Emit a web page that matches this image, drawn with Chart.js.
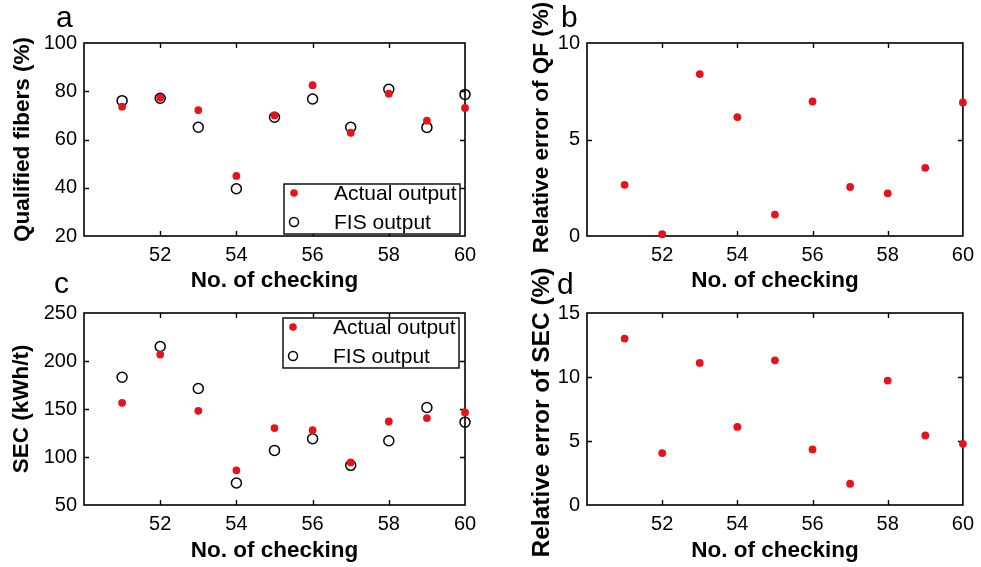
<!DOCTYPE html>
<html><head><meta charset="utf-8">
<script src="https://cdn.jsdelivr.net/npm/chart.js@4"></script>
<style>
html,body{margin:0;padding:0;background:#fff}
body{width:981px;height:567px;position:relative;overflow:hidden;font-family:'Liberation Sans',Arial,sans-serif}
canvas{position:absolute;display:block}
.lbl{position:absolute;font-size:30px;line-height:30px;color:#000}
</style></head>
<body>
<canvas id="ca" width="490" height="300" style="left:0;top:0"></canvas>
<canvas id="cb" width="491" height="300" style="left:490px;top:0"></canvas>
<canvas id="cc" width="490" height="297" style="left:0;top:270px"></canvas>
<canvas id="cd" width="491" height="307" style="left:490px;top:260px"></canvas>
<div class="lbl" style="left:56px;top:2px">a</div>
<div class="lbl" style="left:561px;top:2px">b</div>
<div class="lbl" style="left:54px;top:268px">c</div>
<div class="lbl" style="left:557px;top:269px">d</div>
<script>
// ---- data ----
const checks     = [51, 52, 53, 54, 55, 56, 57, 58, 59, 60];
const qfActual   = [73.6, 77.3, 72.2, 44.9, 70.0, 82.5, 62.8, 79.0, 67.8, 73.1];
const qfFis      = [76.1, 77.1, 65.1, 39.6, 69.2, 76.8, 65.1, 80.8, 65.0, 78.7];
const qfError    = [2.65, 0.09, 8.39, 6.16, 1.11, 6.97, 2.54, 2.21, 3.53, 6.92];
const secActual  = [156.4, 206.7, 148.1, 86.1, 130.1, 128.0, 94.4, 137.0, 140.5, 146.4];
const secFis     = [183.1, 215.1, 171.4, 72.9, 106.9, 119.0, 91.3, 116.9, 151.6, 136.3];
const secError   = [13.0, 4.06, 11.1, 6.1, 11.3, 4.34, 1.66, 9.72, 5.43, 4.78];
const xTicks     = [52, 54, 56, 58, 60];
const qfTicks    = [20, 40, 60, 80, 100];
const qfErrTicks = [0, 5, 10];
const secTicks   = [50, 100, 150, 200, 250];
const secErrTicks= [0, 5, 10, 15];
const seriesNames = ['Actual output', 'FIS output'];

const FONT = "'Liberation Sans', Arial, sans-serif";
const RED = 'rgb(228,20,26)';

const matlabAxes = {
  id: 'matlabAxes',
  beforeDatasetsDraw(chart) {
    const {ctx, chartArea: a, scales: {x, y}} = chart;
    const tl = 5;
    ctx.save();
    ctx.strokeStyle = '#000';
    ctx.lineWidth = 1.4;
    ctx.beginPath();
    x.ticks.forEach(t => {
      const px = Math.round(x.getPixelForValue(t.value)) + 0.5;
      if (px > a.left + 2 && px < a.right - 2) {
        ctx.moveTo(px, a.bottom); ctx.lineTo(px, a.bottom - tl);
        ctx.moveTo(px, a.top); ctx.lineTo(px, a.top + tl);
      }
    });
    y.ticks.forEach(t => {
      const py = Math.round(y.getPixelForValue(t.value)) + 0.5;
      if (py > a.top + 2 && py < a.bottom - 2) {
        ctx.moveTo(a.left, py); ctx.lineTo(a.left + tl, py);
        ctx.moveTo(a.right, py); ctx.lineTo(a.right - tl, py);
      }
    });
    ctx.stroke();
    ctx.lineWidth = 1.6;
    ctx.strokeRect(a.left, a.top, a.right - a.left, a.bottom - a.top);
    ctx.restore();
  }
};

const boxLegend = {
  id: 'boxLegend',
  afterDatasetsDraw(chart, args, opts) {
    if (!opts || !opts.display) return;
    const {ctx, chartArea: a} = chart;
    const w = 176, h = 50;
    const left = a.right - opts.offsetRight - w;
    const top = opts.corner === 'top' ? a.top + opts.offsetY : a.bottom - opts.offsetY - h;
    ctx.save();
    ctx.fillStyle = '#fff';
    ctx.fillRect(left, top, w, h);
    ctx.strokeStyle = '#000';
    ctx.lineWidth = 1.4;
    ctx.strokeRect(left, top, w, h);
    const rows = [top + 9, top + 38];
    chart.data.datasets.forEach((ds, i) => {
      const cy = rows[i];
      const cx = left + 10;
      ctx.beginPath();
      ctx.arc(cx, cy, i === 0 ? 3.8 : 4.5, 0, Math.PI * 2);
      if (i === 0) { ctx.fillStyle = ds.backgroundColor; ctx.fill(); }
      else { ctx.strokeStyle = ds.borderColor; ctx.lineWidth = 1.5; ctx.stroke(); }
      ctx.fillStyle = '#000';
      ctx.font = '21px ' + FONT;
      ctx.textBaseline = 'middle';
      ctx.textAlign = 'left';
      ctx.fillText(ds.label, left + 50, cy + 1);
    });
    ctx.restore();
  }
};

// y-axis title drawn off-centre (panels b and d in the reference are not centred on their axes)
const shiftedYTitle = {
  id: 'shiftedYTitle',
  afterDraw(chart, args, o) {
    if (!o || !o.text) return;
    const {ctx, chartArea: a} = chart;
    ctx.save();
    ctx.translate(o.x, (a.top + a.bottom) / 2 + o.shift);
    ctx.rotate(-Math.PI / 2);
    ctx.font = 'bold ' + o.size + 'px ' + FONT;
    ctx.textAlign = 'center';
    ctx.textBaseline = 'middle';
    ctx.fillStyle = '#000';
    ctx.fillText(o.text, 0, 0);
    ctx.restore();
  }
};

function pts(ys) { return checks.map((c, i) => ({x: c, y: ys[i]})); }

function actualSet(ys, label) {
  return {label: label, data: pts(ys), pointStyle: 'circle', pointRadius: 3.9,
    backgroundColor: RED, borderColor: RED, borderWidth: 0, showLine: false, clip: false};
}
function fisSet(ys, label) {
  return {label: label, data: pts(ys), pointStyle: 'circle', pointRadius: 5,
    backgroundColor: 'rgba(0,0,0,0)', borderColor: '#000', borderWidth: 1.5, showLine: false, clip: false};
}

function makePanel(id, datasets, o) {
  new Chart(document.getElementById(id), {
    type: 'scatter',
    data: {datasets: datasets},
    plugins: [matlabAxes, boxLegend, shiftedYTitle],
    options: {
      responsive: false,
      animation: false,
      events: [],
      layout: {padding: {left: 0, right: o.padRight, top: o.padTop || 43, bottom: 0}},
      plugins: {
        legend: {display: false},
        tooltip: {enabled: false},
        boxLegend: o.legend || {display: false},
        shiftedYTitle: o.shiftedTitle || {}
      },
      scales: {
        x: {
          type: 'linear', min: 50, max: 60,
          grid: {display: false, drawTicks: false},
          border: {display: false},
          afterBuildTicks: s => { s.ticks = xTicks.map(v => ({value: v})); },
          afterFit: s => { s.height = o.xHeight; },
          ticks: {color: '#000', font: {family: FONT, size: 20}, padding: 7, maxRotation: 0, autoSkip: false},
          title: {display: true, text: 'No. of checking', color: '#000',
            font: {family: FONT, size: 22.5, weight: 'bold'}, padding: {top: 0, bottom: o.xTitlePad}}
        },
        y: {
          type: 'linear', min: o.yMin, max: o.yMax,
          grid: {display: false, drawTicks: false},
          border: {display: false},
          afterBuildTicks: s => { s.ticks = o.yTicks.map(v => ({value: v})); },
          afterFit: s => { s.width = o.yWidth; },
          ticks: {color: '#000', font: {family: FONT, size: 20}, padding: 7, autoSkip: false},
          title: {display: !o.shiftedTitle, text: o.yTitle, color: '#000',
            font: {family: FONT, size: 22.5, weight: 'bold'}, padding: {top: o.yTitlePad, bottom: 0}}
        }
      }
    }
  });
}

makePanel('ca', [actualSet(qfActual, seriesNames[0]), fisSet(qfFis, seriesNames[1])], {
  padRight: 25, xHeight: 64, xTitlePad: 6, yWidth: 84, yTitlePad: 9.5,
  yMin: 20, yMax: 100, yTicks: qfTicks, yTitle: 'Qualified fibers (%)',
  legend: {display: true, corner: 'bottom', offsetRight: 5, offsetY: 2}
});
makePanel('cb', [actualSet(qfError, 'Relative error of QF')], {
  padRight: 14, xHeight: 64, xTitlePad: 6, yWidth: 97, yTitlePad: 35.5,
  yMin: 0, yMax: 10, yTicks: qfErrTicks, yTitle: 'Relative error of QF (%)',
  shiftedTitle: {text: 'Relative error of QF (%)', x: 51.5, shift: -12, size: 22.5}
});
makePanel('cc', [actualSet(secActual, seriesNames[0]), fisSet(secFis, seriesNames[1])], {
  padRight: 25, xHeight: 62, xTitlePad: 3, yWidth: 84, yTitlePad: 8.5,
  yMin: 50, yMax: 250, yTicks: secTicks, yTitle: 'SEC (kWh/t)',
  legend: {display: true, corner: 'top', offsetRight: 6, offsetY: 5}
});
makePanel('cd', [actualSet(secError, 'Relative error of SEC')], {
  padRight: 14, padTop: 53, xHeight: 62, xTitlePad: 3, yWidth: 97, yTitlePad: 37.3,
  yMin: 0, yMax: 15, yTicks: secErrTicks, yTitle: 'Relative error of SEC (%)',
  shiftedTitle: {text: 'Relative error of SEC (%)', x: 52, shift: 3.5, size: 24.5}
});
</script>
</body></html>
